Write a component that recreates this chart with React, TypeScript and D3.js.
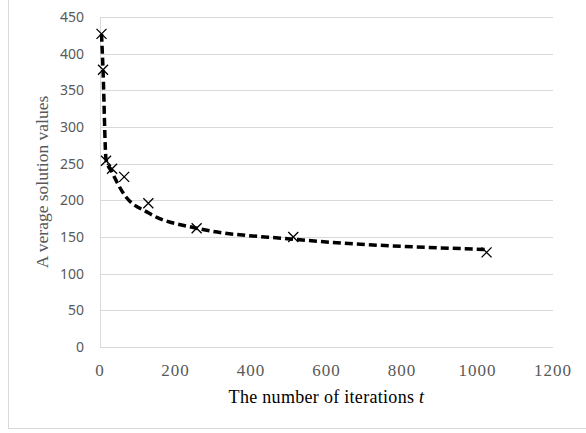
import { useEffect, useRef } from "react"
import * as d3 from "d3"

// measured averages
const iterations = [4, 8, 16, 32, 64, 128, 256, 512, 1024]
const avgValues = [427, 378, 254, 243, 232, 196, 162, 150, 129]
// dashed trend curve
const trendX = [4, 8, 16, 32, 64, 128, 256, 512, 1024]
const trendValues = [427, 378, 256, 238, 208, 183, 162, 147, 133]

const xTicks = [0, 200, 400, 600, 800, 1000, 1200]
const yTicks = [0, 50, 100, 150, 200, 250, 300, 350, 400, 450]

export default function App() {
  const svgRef = useRef<SVGSVGElement>(null)

  useEffect(() => {
    if (!svgRef.current) return
    const svg = d3.select(svgRef.current)
    svg.selectAll("*").remove()

    const width = 586
    const height = 433
    const margin = { top: 17, right: 33, bottom: 86, left: 100 }
    const innerWidth = width - margin.left - margin.right
    const innerHeight = height - margin.top - margin.bottom

    // chart border (only left and bottom show up)
    svg.append("rect")
      .attr("x", 8.5)
      .attr("y", -5)
      .attr("width", width)
      .attr("height", 433.5)
      .attr("fill", "white")
      .attr("stroke", "#d9d9d9")

    const g = svg.append("g").attr("transform", `translate(${margin.left},${margin.top})`)

    const xScale = d3.scaleLinear().domain([0, 1200]).range([0, innerWidth])
    const yScale = d3.scaleLinear().domain([0, 450]).range([innerHeight, 0])

    // gridlines
    g.selectAll("line.grid")
      .data(yTicks)
      .join("line")
      .attr("class", "grid")
      .attr("x1", 0)
      .attr("x2", innerWidth)
      .attr("y1", (d) => Math.round(yScale(d)) + 0.5)
      .attr("y2", (d) => Math.round(yScale(d)) + 0.5)
      .attr("stroke", "#d9d9d9")
      .attr("stroke-width", 1)

    // y axis line
    g.append("line")
      .attr("x1", 0.5)
      .attr("x2", 0.5)
      .attr("y1", 0)
      .attr("y2", innerHeight)
      .attr("stroke", "#d9d9d9")

    // y tick labels
    g.selectAll("text.ytick")
      .data(yTicks)
      .join("text")
      .attr("class", "ytick")
      .attr("x", -16)
      .attr("y", (d) => yScale(d))
      .attr("dy", "0.36em")
      .attr("text-anchor", "end")
      .attr("fill", "#595959")
      .style("font-family", "'Noto Sans', sans-serif")
      .style("font-size", "14px")
      .text((d) => d)

    // x tick labels
    g.selectAll("text.xtick")
      .data(xTicks)
      .join("text")
      .attr("class", "xtick")
      .attr("x", (d) => xScale(d))
      .attr("y", innerHeight + 29)
      .attr("text-anchor", "middle")
      .attr("fill", "#595959")
      .style("font-family", "'Liberation Serif', serif")
      .style("font-size", "17px")
      .style("letter-spacing", "1px")
      .text((d) => d)

    // x title
    const xTitle = g.append("text")
      .attr("x", innerWidth / 2)
      .attr("y", innerHeight + 56)
      .attr("text-anchor", "middle")
      .attr("fill", "#000")
      .style("font-family", "'Liberation Serif', serif")
      .style("font-size", "18px")
      .style("letter-spacing", "0.3px")
    xTitle.append("tspan").text("The number of iterations ")
    xTitle.append("tspan").style("font-style", "italic").text("t")

    // y title
    g.append("text")
      .attr("transform", `translate(${-margin.left + 48},${innerHeight / 2}) rotate(-90)`)
      .attr("text-anchor", "middle")
      .attr("fill", "#595959")
      .style("font-family", "'Liberation Serif', serif")
      .style("font-size", "17.5px")
      .text("A verage solution values")

    // trend line
    const trend = trendX.map((x, i) => ({ x, y: trendValues[i] }))
    const line = d3
      .line<{ x: number; y: number }>()
      .x((d) => xScale(d.x))
      .y((d) => yScale(d.y))
      .curve(d3.curveMonotoneX)

    g.append("path")
      .datum(trend)
      .attr("fill", "none")
      .attr("stroke", "#000")
      .attr("stroke-width", 3.5)
      .attr("stroke-dasharray", "8,4")
      .attr("d", line)

    // x markers
    const pts = iterations.map((x, i) => ({ x, y: avgValues[i] }))
    const s = 5
    g.selectAll("path.marker")
      .data(pts)
      .join("path")
      .attr("class", "marker")
      .attr("d", (d) => {
        const cx = xScale(d.x)
        const cy = yScale(d.y)
        return `M${cx - s},${cy - s}L${cx + s},${cy + s}M${cx - s},${cy + s}L${cx + s},${cy - s}`
      })
      .attr("stroke", "#000")
      .attr("stroke-width", 1.3)
      .attr("fill", "none")
  }, [])

  return (
    <svg
      ref={svgRef}
      width={586}
      height={433}
      style={{ position: "absolute", left: 0, top: 0, background: "white" }}
    />
  )
}
